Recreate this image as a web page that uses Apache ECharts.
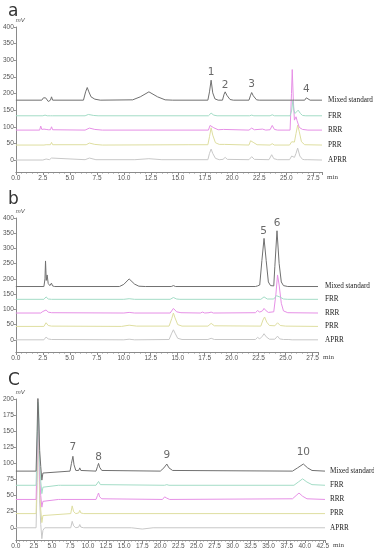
<!DOCTYPE html>
<html><head><meta charset="utf-8">
<script src="https://cdn.jsdelivr.net/npm/echarts@6/dist/echarts.min.js"></script>
<style>html,body{margin:0;padding:0;background:#fff}#c{width:374px;height:550px}</style>
</head><body><div id="c"></div>
<script>
// ---------- data ----------
const traceNames = ['Mixed standard', 'FRR', 'RRR', 'PRR', 'APRR'];
const traceColors = ['#707070', '#a3dcc6', '#e690e6', '#dedea0', '#c8c8c8'];

const yTicksA = [0, 50, 100, 150, 200, 250, 300, 350, 400];
const yTicksB = [0, 50, 100, 150, 200, 250, 300, 350, 400];
const yTicksC = [0, 25, 50, 75, 100, 125, 150, 175, 200];

// panel a  [time (min), signal (mV)]
const aMixed = [[0,180],[2.4,180],[2.55,187],[2.65,181],[2.75,187],[2.85,181],[3.0,176],[3.2,180],[3.3,190],[3.4,180],[6.25,180],[6.45,205],[6.6,218],[6.75,205],[6.95,190],[7.3,183],[7.8,180],[10.8,181],[11.5,190],[12.3,205],[13.1,190],[13.8,181],[14.5,180],[17.75,180],[17.9,205],[18.05,240],[18.2,202],[18.4,184],[18.7,180],[19.1,180],[19.25,198],[19.35,205],[19.5,195],[19.8,182],[20.1,180],[21.55,180],[21.7,195],[21.8,203],[21.95,193],[22.25,181],[22.5,180],[25.45,180],[25.6,185],[25.75,180],[26.7,180],[26.85,187],[27.0,182],[27.2,180],[28.3,180]];
const aFRR = [[0,133],[2.5,133],[2.7,135],[2.9,133],[3.2,133],[3.3,136],[3.4,133],[6.4,133],[6.7,137],[7.2,134],[7.6,133],[17.8,133],[17.95,139],[18.05,141],[18.3,135],[18.6,133],[21.6,133],[21.8,135],[22.0,133],[23.5,133],[23.7,136],[23.9,133],[25.35,133],[25.5,150],[25.6,178],[25.7,150],[25.8,140],[25.95,146],[26.1,150],[26.3,140],[26.5,134],[26.8,133],[28.3,133]];
const aRRR = [[0,90],[2.2,90],[2.3,102],[2.4,92],[2.6,93],[2.8,92],[3.0,91],[3.2,91],[3.3,100],[3.4,91],[6.4,90],[6.8,96],[7.3,92],[8.0,90],[17.8,90],[17.95,104],[18.05,110],[18.3,97],[18.7,91],[19.2,92],[21.55,90],[21.8,96],[22.05,91],[22.8,93],[23.1,90],[23.5,91],[23.7,104],[23.9,92],[24.2,90],[25.35,90],[25.48,200],[25.55,272],[25.65,180],[25.75,120],[25.9,130],[26.0,118],[26.2,98],[26.5,92],[27.0,90],[28.3,90]];
const aPRR = [[0,45],[2.6,45],[2.7,51],[2.8,46],[3.2,46],[3.3,53],[3.4,46],[6.5,46],[6.8,51],[7.3,47],[8,45],[16,46],[17.75,46],[17.9,70],[18.05,97],[18.2,75],[18.45,52],[18.8,47],[19.3,47],[21.55,45],[21.7,58],[21.8,64],[22.0,52],[22.3,46],[23.5,45],[23.7,49],[23.9,45],[25.3,45],[25.5,55],[25.6,60],[25.75,54],[25.9,80],[26.05,105],[26.2,85],[26.4,55],[26.7,46],[28.3,45]];
const aAPRR = [[0,0],[2.5,0],[2.8,3],[3.1,1],[3.3,6],[3.4,1],[6.4,1],[6.8,6],[7.4,1],[11,1],[12.3,4],[13.5,1],[17.75,1],[17.9,20],[18.05,33],[18.2,20],[18.45,5],[18.8,1],[19.15,2],[19.35,8],[19.55,2],[21.55,1],[21.8,10],[22.05,2],[23.4,1],[23.65,16],[23.85,4],[24.2,1],[25.3,1],[25.5,12],[25.6,15],[25.75,8],[25.9,20],[26.05,36],[26.25,12],[26.5,2],[26.7,1],[26.85,4],[27.0,1],[28.3,0]];

// panel b
const bMixed = [[0,175],[2.6,175],[2.7,200],[2.75,259],[2.82,195],[2.9,213],[3.0,185],[3.15,178],[3.3,186],[3.4,177],[3.6,175],[9.6,175],[10.0,182],[10.5,200],[11.0,183],[11.4,176],[12,175],[14.4,175],[14.6,178],[14.8,175],[22.2,175],[22.4,177],[22.6,180],[22.8,260],[23.0,333],[23.2,260],[23.4,190],[23.6,178],[23.9,177],[24.0,240],[24.2,358],[24.4,250],[24.6,190],[24.8,178],[25.2,175],[28,175]];
const bFRR = [[0,133],[2.6,133],[2.8,141],[3.0,134],[3.3,133],[10,133],[10.5,135],[11,133],[14.3,133],[14.6,139],[14.9,134],[15.2,133],[22.7,133],[23.0,141],[23.3,134],[23.9,134],[24.15,145],[24.3,148],[24.5,140],[24.8,134],[25.2,133],[28,133]];
const bRRR = [[0,88],[2.3,88],[2.5,93],[2.65,92],[2.8,98],[3.0,91],[3.3,89],[10,88],[10.5,90],[11,88],[14.3,88],[14.6,103],[14.9,92],[15.3,89],[17.1,88],[17.3,91],[17.5,88],[17.9,89],[18.1,91],[18.3,88],[22.2,89],[22.4,96],[22.6,91],[22.85,95],[23.0,103],[23.2,95],[23.4,90],[23.9,92],[24.1,150],[24.25,213],[24.4,180],[24.6,120],[24.8,95],[25.2,89],[28,88]];
const bPRR = [[0,44],[2.6,44],[2.8,56],[3.0,47],[3.3,45],[9.8,44],[10.5,48],[11.2,45],[14.2,45],[14.45,70],[14.6,88],[14.75,72],[15.0,50],[15.4,45],[17.8,45],[18.1,54],[18.4,46],[22.7,45],[22.9,65],[23.05,75],[23.25,58],[23.5,47],[24.0,46],[24.25,56],[24.5,47],[25,45],[28,44]];
const bAPRR = [[0,0],[2.6,0],[2.8,9],[3.0,3],[3.3,1],[10,0],[10.5,2],[11,0],[14.2,1],[14.45,22],[14.6,33],[14.75,22],[15.0,5],[15.4,1],[17.8,1],[18.1,5],[18.4,1],[22.2,1],[22.4,8],[22.6,3],[22.85,12],[23.0,20],[23.2,10],[23.5,2],[24.0,2],[24.25,12],[24.45,3],[24.8,1],[25.3,1],[25.45,3],[25.6,0],[28,0]];

// panel c
const cMixed = [[0,88],[2.8,88],[2.95,150],[3.05,210],[3.15,210],[3.3,120],[3.45,95],[3.6,74],[3.75,85],[4.0,88],[7.5,88],[7.7,100],[7.9,111],[8.05,98],[8.3,89],[8.7,89],[8.85,93],[9.0,89],[11.1,88],[11.3,95],[11.45,100],[11.6,94],[11.9,89],[20.0,88],[20.5,93],[20.9,99],[21.2,93],[21.7,89],[38.3,88],[39.0,93],[39.8,99],[40.4,93],[41.0,89],[42.8,88]];
const cFRR = [[0,66],[2.8,66],[2.95,130],[3.05,195],[3.15,190],[3.3,100],[3.45,72],[3.6,53],[3.75,63],[4.0,66],[5.9,66],[6.05,69],[6.2,66],[11.1,66],[11.45,72],[11.7,67],[20.6,66],[20.9,67],[21.2,66],[38.5,66],[39.1,71],[39.7,76],[40.3,71],[41.0,67],[42.8,66]];
const cRRR = [[0,44],[2.8,44],[2.95,110],[3.05,180],[3.15,170],[3.3,80],[3.45,50],[3.6,32],[3.75,41],[4.0,44],[5.9,44],[6.05,47],[6.2,44],[11.1,44],[11.3,50],[11.45,54],[11.6,48],[11.9,45],[20.3,44],[20.6,48],[20.9,46],[21.3,44],[38.3,45],[38.8,50],[39.2,54],[39.7,49],[40.3,45],[42.8,44]];
const cPRR = [[0,22],[2.8,22],[2.95,90],[3.05,170],[3.15,160],[3.3,60],[3.45,28],[3.6,8],[3.75,19],[4.0,22],[7.6,22],[7.8,34],[8.0,25],[8.3,22],[8.7,23],[8.85,27],[9.0,23],[9.4,22],[42.8,22]];
const cAPRR = [[0,0],[2.8,0],[2.95,70],[3.05,150],[3.15,140],[3.3,40],[3.45,5],[3.6,-17],[3.75,-4],[4.0,0],[7.6,0],[7.8,10],[8.0,3],[8.3,0],[8.7,1],[8.85,5],[9.0,1],[9.4,0],[16,0],[17.5,-2],[19,0],[42.8,0]];

// peak number annotations [time, signal, text]
const peaksA = [[18.05,265,'1'],[19.35,226,'2'],[21.8,229,'3'],[26.85,213,'4']];
const peaksB = [[22.95,358,'5'],[24.2,383,'6']];
const peaksC = [[7.9,125,'7'],[11.45,110,'8'],[20.9,112,'9'],[39.8,117,'10']];

// ---------- chart ----------
const panels = [
  {grid:{left:13, top:27, width:309, height:145}, xMax:28.3, yMin:-36, yMax:400, yTicks:yTicksA,
   series:[aMixed,aFRR,aRRR,aPRR,aAPRR], peaks:peaksA, lblGap:6},
  {grid:{left:15, top:218, width:303, height:134}, xMax:28.0, yMin:-40, yMax:400, yTicks:yTicksB,
   series:[bMixed,bFRR,bRRR,bPRR,bAPRR], peaks:peaksB, lblGap:7},
  {grid:{left:13, top:399, width:312, height:142}, xMax:42.8, yMin:-19, yMax:200, yTicks:yTicksC,
   series:[cMixed,cFRR,cRRR,cPRR,cAPRR], peaks:peaksC, lblGap:5}
];

const axisCol = '#8a8a8a';
const labelStyle = {fontSize:6.5, color:'#555', fontFamily:'Liberation Sans'};
const option = {
  animation:false,
  backgroundColor:'#fff',
  title:[
    {text:'a', left:3, top:-2, textStyle:{fontSize:17, fontWeight:'normal', color:'#333', fontFamily:'DejaVu Sans'}},
    {text:'b', left:3, top:186, textStyle:{fontSize:17, fontWeight:'normal', color:'#333', fontFamily:'DejaVu Sans'}},
    {text:'C', left:3, top:367, textStyle:{fontSize:17, fontWeight:'normal', color:'#333', fontFamily:'DejaVu Sans'}}
  ],
  grid:[], xAxis:[], yAxis:[], series:[]
};

panels.forEach((p, i) => {
  option.grid.push(Object.assign({containLabel:false}, p.grid));
  option.xAxis.push({
    type:'value', gridIndex:i, min:0, max:p.xMax, interval:2.5,
    name:'min', nameLocation:'end', nameGap:5,
    nameTextStyle:{fontSize:7, color:'#444', verticalAlign:'top', padding:[2,0,0,0], fontFamily:'Liberation Serif'},
    axisLine:{onZero:false, lineStyle:{color:axisCol, width:1}},
    axisTick:{length:3, lineStyle:{color:axisCol}},
    minorTick:{show:true, splitNumber:5, length:1.5, lineStyle:{color:axisCol}},
    splitLine:{show:false},
    axisLabel:Object.assign({margin:3, showMaxLabel:false,
      formatter:v => (Math.abs(v/2.5 - Math.round(v/2.5)) < 1e-6 ? v.toFixed(1) : '')}, labelStyle)
  });
  option.yAxis.push({
    type:'value', gridIndex:i, min:p.yMin, max:p.yMax,
    name:'mV', nameLocation:'end', nameGap:1,
    nameTextStyle:{fontSize:6, fontStyle:'italic', color:'#555', align:'left', verticalAlign:'bottom'},
    axisLine:{show:true, onZero:false, lineStyle:{color:axisCol, width:1}},
    axisTick:{show:true, length:2, customValues:p.yTicks, lineStyle:{color:axisCol}},
    splitLine:{show:false},
    axisLabel:Object.assign({margin:2, customValues:p.yTicks}, labelStyle)
  });
  p.series.forEach((d, k) => {
    option.series.push({
      type:'line', name:traceNames[k], xAxisIndex:i, yAxisIndex:i, data:d,
      showSymbol:false, symbol:'none', z: 10 - k,
      lineStyle:{color:traceColors[k], width:1},
      endLabel:{show:true, formatter:traceNames[k], distance:p.lblGap, fontSize:7.2, color:'#222', fontFamily:'Liberation Serif'},
      silent:true
    });
  });
  option.series.push({
    type:'scatter', xAxisIndex:i, yAxisIndex:i, symbolSize:0, silent:true,
    data:p.peaks.map(q => ({value:[q[0], q[1]], name:q[2]})),
    label:{show:true, position:'inside', formatter:'{b}', fontSize:10.5, color:'#444', fontFamily:'DejaVu Sans'}
  });
});

const chart = echarts.init(document.getElementById('c'), null, {renderer:'canvas'});
chart.setOption(option);
</script>
</body></html>
